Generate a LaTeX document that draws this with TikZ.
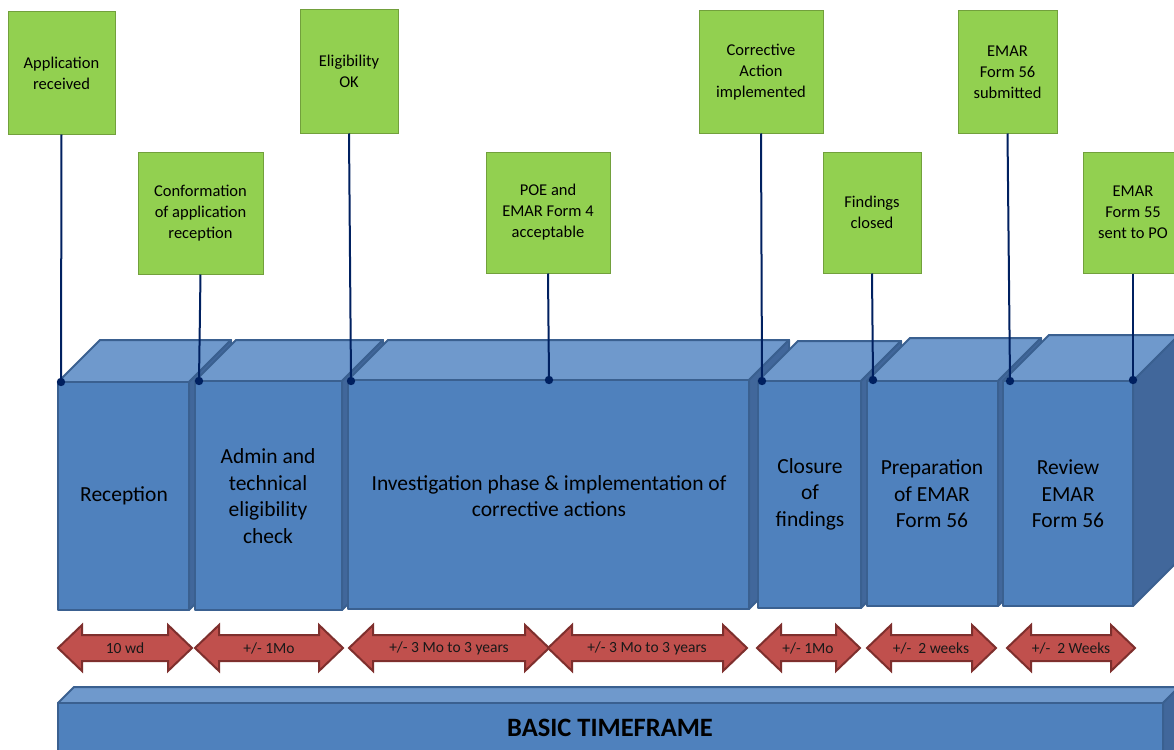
\documentclass[tikz,border=0pt]{standalone}
\usepackage{fontspec}
\setmainfont{Carlito}
\definecolor{frontc}{HTML}{4F81BD}
\definecolor{topc}{HTML}{6F99CC}
\definecolor{sidec}{HTML}{41679B}
\definecolor{edgec}{HTML}{3A6090}
\definecolor{gfill}{HTML}{92D050}
\definecolor{gedge}{HTML}{72A03C}
\definecolor{rfill}{HTML}{C0504D}
\definecolor{redge}{HTML}{7E2F2D}
\definecolor{navy}{HTML}{002060}
\newcommand{\blockbox}[5]{%
  \filldraw[topface] (#1,#3) -- ({#1+#5},{#3-#5}) -- ({#2+#5},{#3-#5}) -- (#2,#3) -- cycle;
  \filldraw[sideface] (#2,#3) -- ({#2+#5},{#3-#5}) -- ({#2+#5},{#4-#5}) -- (#2,#4) -- cycle;
  \filldraw[frontface] (#1,#3) rectangle (#2,#4);
}
\newcommand{\dblarrow}[3]{%
  \filldraw[arrowshape] (#1,#3) -- ({#1+24},{#3-23}) -- ({#1+24},{#3-13}) -- ({#2-24},{#3-13})
    -- ({#2-24},{#3-23}) -- (#2,#3) -- ({#2-24},{#3+23}) -- ({#2-24},{#3+13})
    -- ({#1+24},{#3+13}) -- ({#1+24},{#3+23}) -- cycle;
}
\begin{document}
\begin{tikzpicture}[x=1pt,y=-1pt,
  topface/.style={fill=topc,draw=edgec,line width=2pt,line join=round},
  sideface/.style={fill=sidec,draw=edgec,line width=2pt,line join=round},
  frontface/.style={fill=frontc,draw=edgec,line width=2pt,line join=round},
  arrowshape/.style={fill=rfill,draw=redge,line width=2pt,line join=miter},
  gbox/.style={draw=gedge,fill=gfill,line width=1pt,align=center,inner sep=0pt,
    font=\fontsize{16.5}{21}\selectfont},
  btext/.style={align=center,text=black,font=\fontsize{21.5}{26.5}\selectfont},
  atext/.style={text=black!90,font=\fontsize{15.5}{18}\selectfont},
  conn/.style={draw=navy,line width=2pt},
  dotc/.style={fill=navy}]
\clip (0,0) rectangle (1174,749);
\fill[white] (0,0) rectangle (1174,749);

% phase blocks
\blockbox{58}{189}{382}{610}{42}
\blockbox{195}{342}{381}{610}{41}
\blockbox{348}{749}{380}{609}{40}
\blockbox{758}{861}{381}{608}{40}
\blockbox{867}{998}{381}{606}{43}
\blockbox{1003}{1133}{381}{606}{46}

\node[btext] (t1) at (124,496) {Reception};
\node[btext] (t2) at (268,496) {Admin and\\technical\\eligibility\\check};
\node[btext] (t3) at (549,496) {Investigation phase \& implementation of\\corrective actions};
\node[btext] (t4) at (810,494) {Closure\\of\\findings};
\node[btext] (t5) at (932,494) {Preparation\\of EMAR\\Form 56};
\node[btext] (t6) at (1068,494) {Review\\EMAR\\Form 56};

% duration arrows
\dblarrow{58}{192}{648}
\dblarrow{195}{343}{648}
\dblarrow{349}{549}{648}
\dblarrow{548}{747}{648}
\dblarrow{757}{860}{648}
\dblarrow{867}{996}{648}
\dblarrow{1007}{1135}{648}
\node[atext] (a1) at (125,648) {10 wd};
\node[atext] (a2) at (269,648) {+/- 1Mo};
\node[atext] (a3) at (449,648) {+/- 3 Mo to 3 years};
\node[atext] (a4) at (647,648) {+/- 3 Mo to 3 years};
\node[atext] (a5) at (808,648) {+/- 1Mo};
\node[atext] (a6) at (931,648) {+/-\ \ 2 weeks};
\node[atext] (a7) at (1071,648) {+/-\ \ 2 Weeks};

% basic timeframe bar
\blockbox{58}{1163}{703}{770}{16}
\node[font=\bfseries\fontsize{26.5}{30}\selectfont,text=black] (bt) at (610,728) {BASIC TIMEFRAME};

% milestones
\node[gbox,minimum width=107pt,minimum height=122pt] (g1) at (61.5,73) {Application\\received};
\node[gbox,minimum width=125pt,minimum height=122pt] (g2) at (200.5,213) {Conformation\\of application\\reception};
\node[gbox,minimum width=98pt,minimum height=123pt] (g3) at (349,71.5) {Eligibility\\OK};
\node[gbox,minimum width=124pt,minimum height=121pt] (g4) at (548,212.5) {POE and\\EMAR Form 4\\acceptable};
\node[gbox,minimum width=124pt,minimum height=122pt] (g5) at (761,72) {Corrective\\Action\\implemented};
\node[gbox,minimum width=98pt,minimum height=121pt] (g6) at (872,212.5) {Findings\\closed};
\node[gbox,minimum width=99pt,minimum height=122pt] (g7) at (1007.5,72) {EMAR\\Form 56\\submitted};
\node[gbox,minimum width=100pt,minimum height=121pt] (g8) at (1133,212.5) {EMAR\\Form 55\\sent to PO};

\coordinate (d1) at (61,382);
\coordinate (d2) at (199,381);
\coordinate (d3) at (351,381);
\coordinate (d4) at (549,380);
\coordinate (d5) at (762,381);
\coordinate (d6) at (873,380);
\coordinate (d7) at (1010,381);
\coordinate (d8) at (1133,380);

\draw[conn] (g1.south) -- (d1);
\draw[conn] (g2.south) -- (d2);
\draw[conn] (g3.south) -- (d3);
\draw[conn] (g4.south) -- (d4);
\draw[conn] (g5.south) -- (d5);
\draw[conn] (g6.south) -- (d6);
\draw[conn] (g7.south) -- (d7);
\draw[conn] (g8.south) -- (d8);
\foreach \d in {d1,d2,d3,d4,d5,d6,d7,d8} \fill[dotc] (\d) circle (4.2);
\end{tikzpicture}
\end{document}
